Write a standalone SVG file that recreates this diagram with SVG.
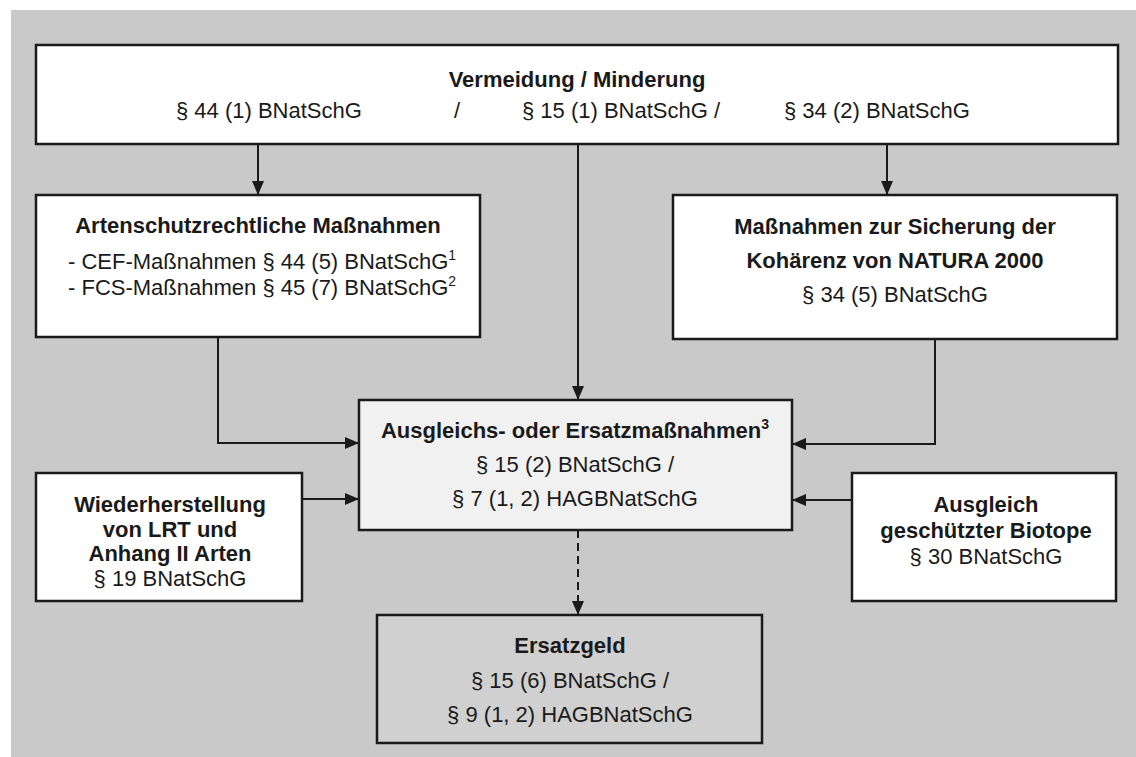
<svg xmlns="http://www.w3.org/2000/svg" width="1136" height="757" viewBox="0 0 1136 757">
<defs>
<marker id="ah" viewBox="0 0 14 12" refX="14" refY="6" markerWidth="14" markerHeight="12" markerUnits="userSpaceOnUse" orient="auto">
<path d="M0,0 L14,6 L0,12 z" fill="#1a1a1a"/>
</marker>
<style>
.box{stroke:#1a1a1a;stroke-width:2.5;fill:#ffffff}
.t{font-family:"Liberation Sans",Arial,sans-serif;font-size:22px;fill:#1a1a1a}
.b{font-weight:bold}
.c{text-anchor:middle}
.ln{stroke:#1a1a1a;stroke-width:2;fill:none}
.sup{font-size:14px}
</style>
</defs>
<rect x="0" y="0" width="1136" height="757" fill="#ffffff"/>
<rect x="11" y="10" width="1125" height="747" fill="#c9c9c9"/>

<g id="connectors">
<line class="ln" x1="258" y1="144" x2="258" y2="195" marker-end="url(#ah)"/>
<line class="ln" x1="578" y1="144" x2="578" y2="400" marker-end="url(#ah)"/>
<line class="ln" x1="887" y1="144" x2="887" y2="195" marker-end="url(#ah)"/>
<polyline class="ln" points="218,337 218,443 359,443" marker-end="url(#ah)"/>
<polyline class="ln" points="935,339 935,444 792,444" marker-end="url(#ah)"/>
<line class="ln" x1="302" y1="499" x2="359" y2="499" marker-end="url(#ah)"/>
<line class="ln" x1="852" y1="500" x2="792" y2="500" marker-end="url(#ah)"/>
<line class="ln" x1="578" y1="530" x2="578" y2="615" stroke-dasharray="8,5" marker-end="url(#ah)"/>
</g>

<g id="vermeidung">
<rect class="box" x="36" y="45" width="1082" height="99"/>
<text class="t b c" x="577" y="87">Vermeidung / Minderung</text>
<text class="t" x="176" y="118">§ 44 (1) BNatSchG</text>
<text class="t" x="454" y="118">/</text>
<text class="t" x="522" y="118">§ 15 (1) BNatSchG /</text>
<text class="t" x="784" y="118">§ 34 (2) BNatSchG</text>
</g>

<g id="artenschutz">
<rect class="box" x="36" y="195" width="444" height="142"/>
<text class="t b c" x="258" y="233">Artenschutzrechtliche Maßnahmen</text>
<text class="t" x="68" y="269">- CEF-Maßnahmen § 44 (5) BNatSchG<tspan class="sup" dy="-9">1</tspan></text>
<text class="t" x="68" y="295">- FCS-Maßnahmen § 45 (7) BNatSchG<tspan class="sup" dy="-9">2</tspan></text>
</g>

<g id="natura">
<rect class="box" x="673" y="195" width="444" height="144"/>
<text class="t b c" x="895" y="234">Maßnahmen zur Sicherung der</text>
<text class="t b c" x="895" y="268">Kohärenz von NATURA 2000</text>
<text class="t c" x="895" y="302">§ 34 (5) BNatSchG</text>
</g>

<g id="ausgleich-ersatz">
<rect class="box" x="359" y="400" width="433" height="130" style="fill:#f1f1f1"/>
<text class="t b c" x="575" y="438">Ausgleichs- oder Ersatzmaßnahmen<tspan class="sup" dy="-9">3</tspan></text>
<text class="t c" x="575" y="472">§ 15 (2) BNatSchG /</text>
<text class="t c" x="575" y="506">§ 7 (1, 2) HAGBNatSchG</text>
</g>

<g id="wiederherstellung">
<rect class="box" x="36" y="473" width="266" height="128"/>
<text class="t b c" x="170" y="512">Wiederherstellung</text>
<text class="t b c" x="170" y="537">von LRT und</text>
<text class="t b c" x="170" y="561">Anhang II Arten</text>
<text class="t c" x="170" y="586">§ 19 BNatSchG</text>
</g>

<g id="biotope">
<rect class="box" x="852" y="473" width="264" height="128"/>
<text class="t b c" x="986" y="512">Ausgleich</text>
<text class="t b c" x="986" y="538">geschützter Biotope</text>
<text class="t c" x="986" y="564">§ 30 BNatSchG</text>
</g>

<g id="ersatzgeld">
<rect class="box" x="377" y="615" width="385" height="128" style="fill:#d0d0d0"/>
<text class="t b c" x="570" y="653">Ersatzgeld</text>
<text class="t c" x="570" y="688">§ 15 (6) BNatSchG /</text>
<text class="t c" x="570" y="722">§ 9 (1, 2) HAGBNatSchG</text>
</g>
</svg>
